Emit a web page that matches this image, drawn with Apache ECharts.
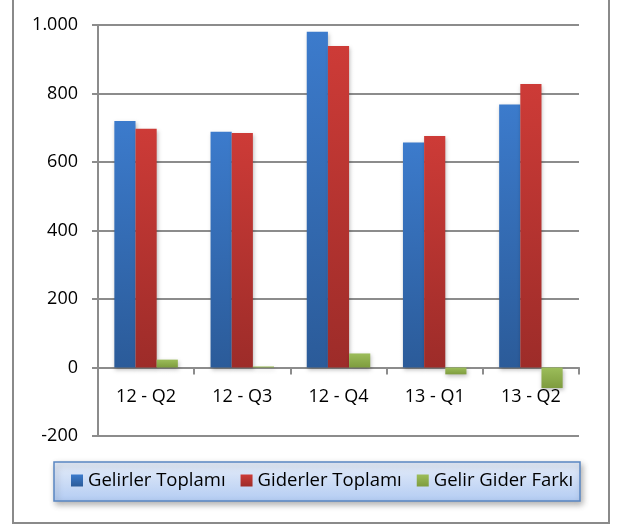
<!DOCTYPE html>
<html>
<head>
<meta charset="utf-8">
<script src="https://cdn.jsdelivr.net/npm/echarts@6/dist/echarts.min.js"></script>
<style>
  html, body { margin: 0; padding: 0; background: #fff; }
  #chart { width: 619px; height: 526px; }
</style>
</head>
<body>
<div id="chart"></div>
<script>
const categories = ["12 - Q2", "12 - Q3", "12 - Q4", "13 - Q1", "13 - Q2"];
const seriesNames = ["Gelirler Toplamı", "Giderler Toplamı", "Gelir Gider Farkı"];
const gelirler = [720, 688, 980, 657, 768];
const giderler = [697, 685, 939, 676, 828];
const fark = [23, 3, 41, -20, -60];

const FONT = "Open Sans";
const GRAY = "#8c8c8c";

function grad(top, bottom) {
  return new echarts.graphic.LinearGradient(0, 0, 0, 1, [
    { offset: 0, color: top },
    { offset: 1, color: bottom },
  ]);
}

function barSeries(name, data, top, bottom) {
  return {
    name: name,
    type: "bar",
    data: data,
    barGap: "0%",
    barCategoryGap: "34%",
    itemStyle: {
      color: grad(top, bottom),
      shadowBlur: 4,
      shadowColor: "rgba(0,0,0,0.25)",
      shadowOffsetX: 1,
      shadowOffsetY: 2,
    },
  };
}

const chart = echarts.init(document.getElementById("chart"), null, { renderer: "canvas" });

const option = {
  animation: false,
  backgroundColor: "#fff",
  textStyle: { fontFamily: FONT },
  grid: { left: 98, right: 40, top: 25, bottom: 90 },
  graphic: [
    {
      type: "rect",
      shape: { x: 13, y: -5, width: 596, height: 528 },
      style: { fill: "none", stroke: "#8a8a8a", lineWidth: 2 },
      z: 0,
    },
    {
      type: "rect",
      shape: { x: 54, y: 462, width: 526, height: 39 },
      style: {
        fill: grad("#e6edf9", "#b3ccf3"),
        stroke: "#5a86c2",
        lineWidth: 1.5,
        shadowBlur: 6,
        shadowColor: "rgba(0,0,0,0.3)",
        shadowOffsetX: 2,
        shadowOffsetY: 3,
      },
      z: 1,
    },
  ],
  legend: {
    data: seriesNames,
    left: 54,
    top: 462,
    padding: [9, 17],
    itemGap: 15,
    itemWidth: 12,
    itemHeight: 12,
    icon: "rect",
    z: 5,
    textStyle: { fontFamily: FONT, fontSize: 18.5, color: "#000" },
  },
  xAxis: {
    type: "category",
    data: categories,
    axisLine: { onZero: true, lineStyle: { color: GRAY, width: 2 } },
    axisTick: { show: true, length: 7, lineStyle: { color: GRAY, width: 2 } },
    axisLabel: { margin: -48, fontFamily: FONT, fontSize: 18, color: "#000" },
  },
  yAxis: {
    type: "value",
    min: -200,
    max: 1000,
    interval: 200,
    axisLine: { show: true, lineStyle: { color: GRAY, width: 2 } },
    axisTick: { show: true, length: 6, lineStyle: { color: GRAY, width: 2 } },
    splitLine: { lineStyle: { color: GRAY, width: 2 } },
    axisLabel: {
      margin: 20,
      fontFamily: FONT,
      fontSize: 18,
      color: "#000",
      formatter: function (v) {
        return v >= 1000 ? Math.floor(v / 1000) + "." + String(v % 1000).padStart(3, "0") : String(v);
      },
    },
  },
  series: [
    barSeries(seriesNames[0], gelirler, "#3c7bcc", "#2b5b99"),
    barSeries(seriesNames[1], giderler, "#cd3b37", "#9d2c29"),
    barSeries(seriesNames[2], fark, "#9cbd5a", "#7e9c3e"),
  ],
};

chart.setOption(option);
</script>
</body>
</html>
